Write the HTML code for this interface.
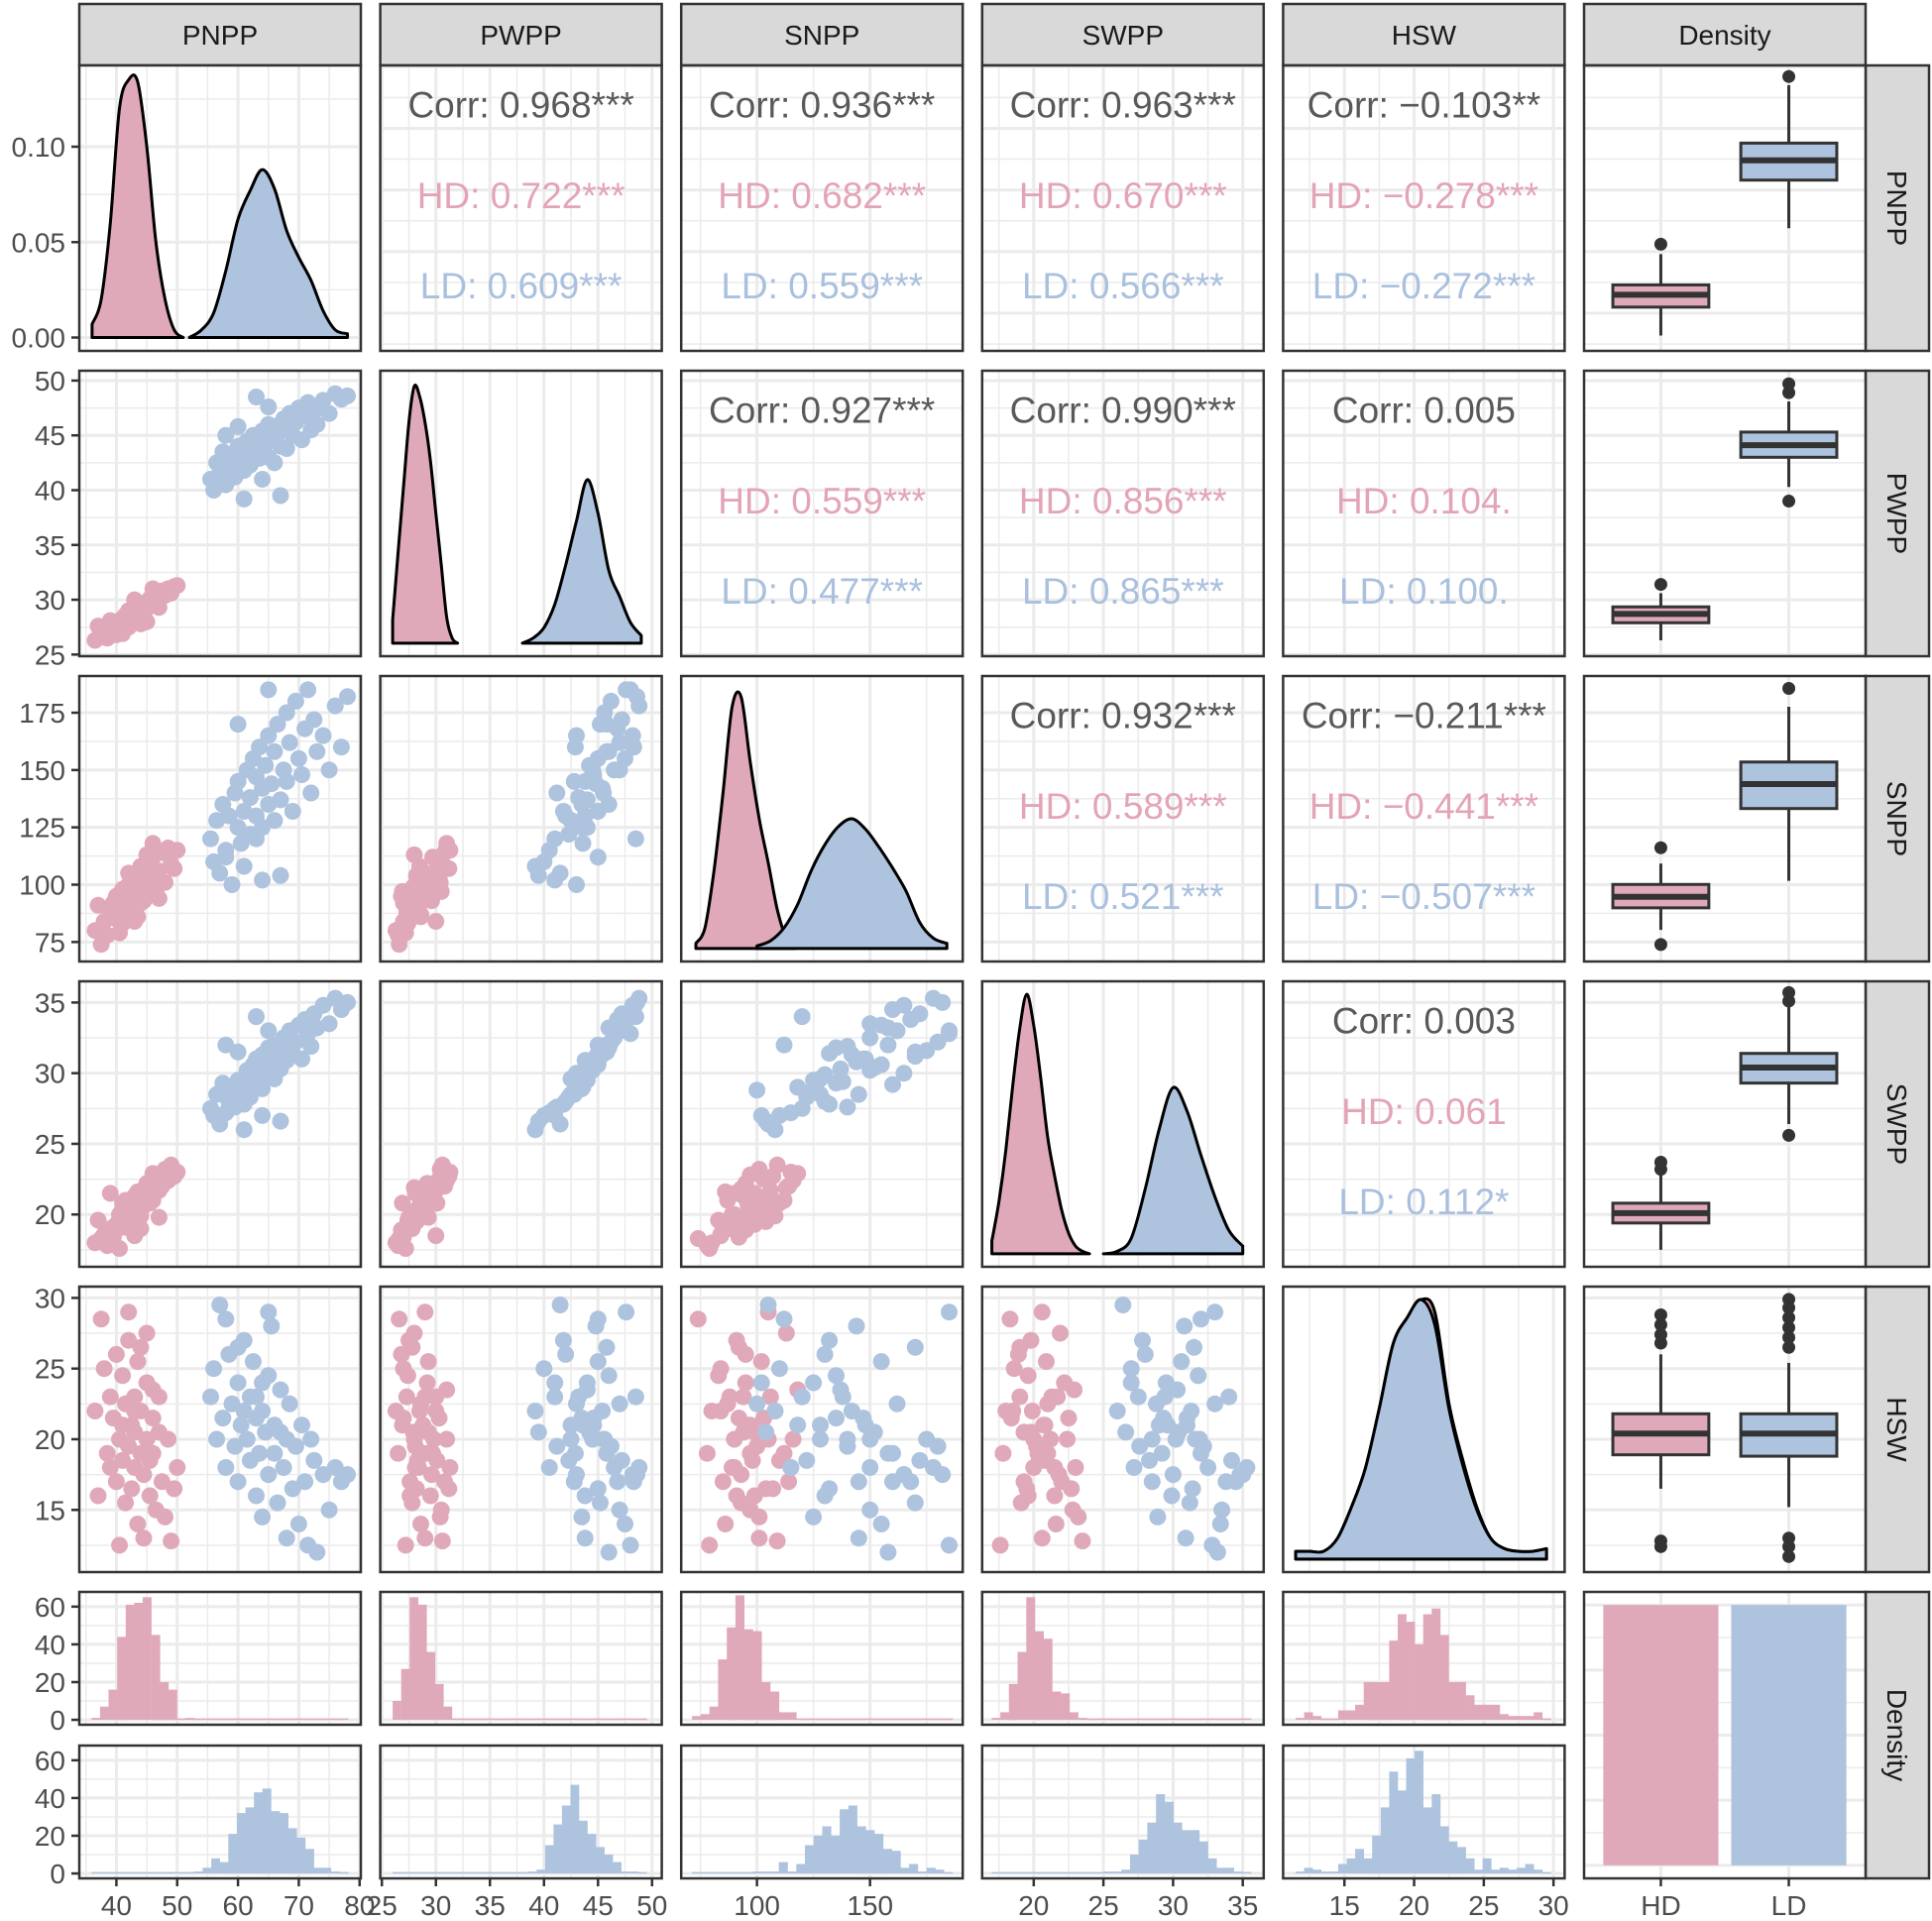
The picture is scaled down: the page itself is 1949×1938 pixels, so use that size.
<!DOCTYPE html>
<html><head><meta charset="utf-8"><style>
html,body{margin:0;padding:0;background:#fff;}
svg{display:block;font-family:"Liberation Sans",Arial,sans-serif;}
</style></head><body>
<svg id="chart" width="1949" height="1938" viewBox="0 0 1949 1938" xmlns="http://www.w3.org/2000/svg"></svg>
<script>
const varNames = ['PNPP','PWPP','SNPP','SWPP','HSW'];
const varRanges = [[33.9,80.2],[24.85,50.9],[66.5,191],[16.3,36.5],[10.6,30.8]];
const xMajor = [[40,50,60,70,80],[25,30,35,40,45,50],[100,150],[20,25,30,35],[15,20,25,30]];
const xMinor = [[35,45,55,65,75],[27.5,32.5,37.5,42.5,47.5],[75,125,175],[17.5,22.5,27.5,32.5],[12.5,17.5,22.5,27.5]];
const yMajor = [[40,50,60,70,80],[25,30,35,40,45,50],[75,100,125,150,175],[20,25,30,35],[15,20,25,30]];
const yMinor = [[35,45,55,65,75],[27.5,32.5,37.5,42.5,47.5],[87.5,112.5,137.5,162.5],[17.5,22.5,27.5,32.5],[12.5,17.5,22.5,27.5]];
const densTicks = [0,0.05,0.10];
const densTickLabels = ['0.00','0.05','0.10'];
const countTicks = [0,20,40,60];

// scatter data
const hdPNPP=[36.5,37.5,38,38.5,39,39.5,40,40,40.5,41,41,41.5,41.5,42,42,42.5,42.5,43,43,43,43.5,43.5,44,44,44.5,44.5,45,45,45.5,45.5,46,46,46.5,47,47.5,48,48.5,49,49.5,50,42,40.5,44,41,43,45,39,47,37,46];
const hdPWPP=[26.3,26.6,27.0,26.5,27.3,27.0,27.6,26.8,28.0,27.4,28.3,27.8,28.6,28.1,27.5,28.8,28.2,29.0,28.4,27.9,29.3,28.6,29.1,28.5,29.6,29.0,29.8,29.2,30.1,29.5,30.3,29.7,30.5,30.0,30.8,30.4,31.0,30.6,31.2,31.3,29.0,27.2,27.8,26.9,30.0,28.0,28.1,29.3,27.6,31.0];
const hdSNPP=[80,74,84,78,88,92,85,95,90,83,98,93,87,100,91,96,104,94,89,99,102,86,97,108,93,101,105,95,110,99,103,112,97,106,114,101,116,109,107,115,105,79,92,97,84,113,90,94,91,118];
const hdSWPP=[18.0,18.3,18.6,17.8,19.0,18.4,19.3,18.9,20.0,19.6,20.4,19.1,21.0,20.2,19.8,20.7,19.5,21.3,20.0,19.3,20.9,21.6,20.3,19.9,21.8,20.6,21.2,22.2,20.8,21.5,22.5,21.0,22.8,21.7,22.0,23.2,22.4,23.5,22.7,23.0,20.6,17.6,19.0,20.8,18.5,21.9,21.5,19.8,19.6,22.9];
const hdHSW=[22,28.5,25,19,23,21.5,17,26,20,24.5,18.5,15.5,22.5,19.5,27,21,16.5,23,18,20.5,25.5,14,19,22,17.5,13,20,24,18.5,16,21.5,19,15,23,17,14.5,20,12.8,16.5,18,29,12.5,26.5,21,22,27.5,18,20.5,16,23.5];
const ldPNPP=[55.5,56,56.5,57,57.5,58,58.5,59,59.5,60,60,60.5,61,61.5,62,62,62.5,63,63,63.5,64,64,64.5,65,65,65.5,66,66,66.5,67,67.5,68,68,68.5,69,69.5,70,70.5,71,71.5,72,72.5,73,74,75,76,77,78,61,64,67,60,65,63,58];
const ldPWPP=[41.0,40.0,42.5,41.5,43.5,40.5,42.0,43.0,41.2,44.0,42.8,43.6,41.8,44.5,43.2,42.3,45.0,43.8,44.6,42.9,45.4,43.5,44.2,46.0,43.0,44.8,45.8,42.5,45.2,44.0,46.5,45.6,43.8,47.0,45.0,46.2,47.5,44.6,46.8,48.0,45.5,47.2,46.0,48.2,47.0,48.8,48.3,48.6,39.2,41.0,39.5,45.8,47.6,48.5,45.0];
const ldSNPP=[120,110,128,105,135,115,130,100,140,125,145,118,132,150,138,122,155,130,147,160,142,125,152,135,165,144,158,128,170,137,150,175,145,162,132,180,155,148,168,185,140,172,158,165,150,178,160,182,108,102,104,170,185,120,112];
const ldSWPP=[27.5,27.0,28.5,26.4,29.3,27.2,28.0,28.8,27.6,29.5,28.5,29.0,27.8,30.2,29.4,28.3,30.6,29.9,31.0,29.2,31.3,28.9,30.4,31.8,30.0,30.8,32.0,29.6,31.2,30.3,32.5,31.6,30.9,33.0,31.4,32.2,33.4,31.0,33.8,32.8,31.9,34.2,33.2,34.8,33.5,35.3,34.5,35.0,26.0,27.0,26.6,31.5,33.0,34.0,32.0];
const ldHSW=[23,25,20,29.5,21.5,18,26,22.5,19.5,24,17,21,27,20,23,18.5,25.5,16,21.5,19,22,14.5,20.5,24.5,17.5,28,19,21,15.5,23.5,18,20,13,22.5,16.5,19.5,14,21,17,12.5,20,18.5,12.0,17.5,15,18,17,17.5,22,24,20.5,26.5,29,23,28.5];

// density curves: start, step, values
const densHDStart=[36,26,73,17,11.5], densHDStep=[1.5,0.5,4,0.5,1];
const densLDStart=[52,38,100,25,11.5], densLDStep=[2,1,6,1,1];
const densHD0=[0.007,0.02,0.06,0.12,0.135,0.134,0.10,0.05,0.02,0.004,0.0];
const densLD0=[0.0,0.004,0.013,0.035,0.062,0.077,0.088,0.078,0.056,0.042,0.030,0.014,0.004,0.002];
const densHD1=[0.09,0.35,0.6,0.85,0.99,0.95,0.85,0.7,0.5,0.3,0.1,0.02,0];
const densLD1=[0,0.02,0.06,0.15,0.3,0.47,0.63,0.5,0.28,0.18,0.08,0.03];
const densHD2=[0.02,0.08,0.3,0.6,0.93,0.97,0.72,0.5,0.33,0.15,0.04,0.01];
const densLD2=[0.01,0.03,0.08,0.17,0.3,0.4,0.47,0.5,0.46,0.39,0.31,0.22,0.1,0.04,0.02];
const densHD3=[0.05,0.2,0.4,0.65,0.87,1.0,0.88,0.68,0.45,0.3,0.17,0.08,0.03,0.01,0];
const densLD3=[0,0.01,0.06,0.25,0.48,0.64,0.55,0.38,0.22,0.09,0.03];
const densHD4=[0.03,0.03,0.03,0.08,0.2,0.35,0.58,0.83,0.93,1.0,0.95,0.6,0.38,0.2,0.08,0.04,0.03,0.03,0.04];
const densLD4=[0.03,0.03,0.03,0.08,0.2,0.35,0.58,0.83,0.93,1.0,0.9,0.58,0.36,0.19,0.08,0.04,0.03,0.03,0.04];

// histogram counts (30 bins) with [min,max]
const histRange=[[35.9,78.1],[26.0,49.5],[71.3,186.5],[16.98,35.6],[11.5,29.8]];
const histHD0=[1,7,16,44,61,62,65,45,20,16,0,1,0,0,0,0,0,0,0,0,0,0,0,0,0,0,0,0,0,0];
const histLD0=[0,0,0,0,0,0,0,0,0,0,0,0,1,3,8,6,21,32,35,43,45,33,32,24,19,13,3,3,1,0];
const histHD1=[10,27,65,61,36,19,7,0,0,0,0,0,0,0,0,0,0,0,0,0,0,0,0,0,0,0,0,0,0,0];
const histLD1=[0,0,0,0,0,0,0,0,0,0,0,0,0,0,0,0,1,2,15,26,36,47,28,21,14,10,6,1,1,0];
const histHD2=[2,3,7,32,49,66,48,47,20,15,4,4,0,0,0,0,0,0,0,0,0,0,0,0,0,0,0,0,0,0];
const histLD2=[0,0,0,0,0,0,0,1,1,1,6,1,5,15,20,25,20,34,36,25,23,21,13,12,3,5,1,3,2,0];
const histHD3=[1,4,19,36,65,47,43,15,14,4,1,0,0,0,0,0,0,0,0,0,0,0,0,0,0,0,0,0,0,0];
const histLD3=[0,0,0,0,0,0,0,0,0,0,0,0,0,1,1,2,10,18,27,42,38,27,23,23,17,8,3,3,1,0];
const histHD4=[1,4,2,0,0,5,5,8,20,20,20,42,56,52,40,56,59,45,20,20,13,8,8,8,3,2,2,2,4,0];
const histLD4=[1,3,2,1,1,5,8,13,8,20,35,54,44,61,65,35,42,25,17,14,8,2,8,2,3,2,3,5,2,0];

// boxplot summaries [lo,q1,med,q3,hi]
const boxHD=[[36.4,41,43,44.6,49.6],[26.3,27.9,28.7,29.35,30.6],[80.3,89.9,94.7,100.1,109.2],[17.5,19.4,20.1,20.8,22.8],[16.5,18.9,20.4,21.8,26.0]];
const boxLD=[[53.8,61.6,64.8,67.6,77],[40.3,43.0,44.1,45.3,48.1],[101.7,133.2,143.9,153.5,177.6],[26.4,29.3,30.4,31.4,34.8],[15.2,18.8,20.4,21.8,25.4]];
const outHD=[[51.2],[31.4],[116.1,73.9],[23.2,23.7],[26.8,27.4,28.1,28.8,12.8,12.4]];
const outLD=[[78.4],[48.9,49.7,39.0],[185.6],[35.1,35.7,25.6],[26.5,27.2,27.9,28.6,29.3,29.9,13.0,12.4,11.7]];
const groupCounts=[400,400];
const groupNames=['HD','LD'];

// correlation text
const corrCells=[[0,1],[0,2],[0,3],[0,4],[1,2],[1,3],[1,4],[2,3],[2,4],[3,4]];
const corrAll=['0.968***','0.936***','0.963***','\u22120.103**','0.927***','0.990***','0.005','0.932***','\u22120.211***','0.003'];
const corrHD=['0.722***','0.682***','0.670***','\u22120.278***','0.559***','0.856***','0.104.','0.589***','\u22120.441***','0.061'];
const corrLD=['0.609***','0.559***','0.566***','\u22120.272***','0.477***','0.865***','0.100.','0.521***','\u22120.507***','0.112*'];

const PINK='#e0a9b9', BLUE='#adc3de', PINKT='#e3a4b6', BLUET='#a9c0de';
const svg=document.getElementById('chart');
const NS='http://www.w3.org/2000/svg';
function mk(tag,attrs,parent){const e=document.createElementNS(NS,tag);for(const k in attrs)e.setAttribute(k,attrs[k]);(parent||svg).appendChild(e);return e;}
function lin(d0,d1,p0,p1){return v=>p0+(v-d0)/(d1-d0)*(p1-p0);}
const colX=i=>80+i*303.6, PW=284;
const rowY=j=>66+j*308, PH=288;
const dataX=[hdPNPP,hdPWPP,hdSNPP,hdSWPP,hdHSW], dataL=[ldPNPP,ldPWPP,ldSNPP,ldSWPP,ldHSW];
const densHD=[densHD0,densHD1,densHD2,densHD3,densHD4], densLD=[densLD0,densLD1,densLD2,densLD3,densLD4];
const histHD=[histHD0,histHD1,histHD2,histHD3,histHD4], histLD=[histLD0,histLD1,histLD2,histLD3,histLD4];

function grid(g,x0,y0,w,h,sx,sy,xmaj,xmin,ymaj,ymin){
  (ymin||[]).forEach(v=>{const y=sy(v);if(y>y0&&y<y0+h)mk('line',{x1:x0,x2:x0+w,y1:y,y2:y,stroke:'#ebebeb','stroke-width':1.5},g);});
  (xmin||[]).forEach(v=>{const x=sx(v);if(x>x0&&x<x0+w)mk('line',{x1:x,x2:x,y1:y0,y2:y0+h,stroke:'#ebebeb','stroke-width':1.5},g);});
  (ymaj||[]).forEach(v=>{const y=sy(v);if(y>y0&&y<y0+h)mk('line',{x1:x0,x2:x0+w,y1:y,y2:y,stroke:'#ebebeb','stroke-width':3},g);});
  (xmaj||[]).forEach(v=>{const x=sx(v);if(x>x0&&x<x0+w)mk('line',{x1:x,x2:x,y1:y0,y2:y0+h,stroke:'#ebebeb','stroke-width':3},g);});
}
function border(g,x0,y0,w,h){mk('rect',{x:x0,y:y0,width:w,height:h,fill:'none',stroke:'#333','stroke-width':2.5},g);}
function densPath(start,step,vals,sx,sy){
  const P=vals.map((v,i)=>[sx(start+i*step),sy(v)]);
  let d='M'+P[0][0].toFixed(1)+','+sy(0).toFixed(1)+' L'+P[0][0].toFixed(1)+','+P[0][1].toFixed(1);
  for(let i=0;i<P.length-1;i++){
    const p0=P[Math.max(i-1,0)],p1=P[i],p2=P[i+1],p3=P[Math.min(i+2,P.length-1)];
    let c1y=p1[1]+(p2[1]-p0[1])/6, c2y=p2[1]-(p3[1]-p1[1])/6;
    const base=sy(0); c1y=Math.min(c1y,base); c2y=Math.min(c2y,base);
    d+=` C${(p1[0]+(p2[0]-p0[0])/6).toFixed(1)},${c1y.toFixed(1)} ${(p2[0]-(p3[0]-p1[0])/6).toFixed(1)},${c2y.toFixed(1)} ${p2[0].toFixed(1)},${p2[1].toFixed(1)}`;
  }
  d+=' L'+P[P.length-1][0].toFixed(1)+','+sy(0).toFixed(1)+' Z';return d;
}
function discX(x0){return lin(0.4,2.6,x0,x0+PW);}

// strips
for(let i=0;i<6;i++){
  const g=mk('g',{});
  
  
  mk('rect',{x:colX(i),y:4,width:PW,height:62,fill:'#d9d9d9',stroke:'#333','stroke-width':2.5},g);
  const t=mk('text',{x:colX(i)+PW/2,y:45,'text-anchor':'middle','font-size':28,fill:'#1a1a1a'},g);
  t.textContent=i<5?varNames[i]:'Density';
  const gr=mk('g',{});
  
  
  const y0=rowY(i), h=(i<5?PH:289);
  mk('rect',{x:1882,y:y0,width:64,height:h,fill:'#d9d9d9',stroke:'#333','stroke-width':2.5},gr);
  const tr=mk('text',{x:0,y:0,'text-anchor':'middle','font-size':28,fill:'#1a1a1a',transform:`translate(1904,${y0+h/2}) rotate(90)`},gr);
  tr.textContent=i<5?varNames[i]:'Density';
}

// main 5x5 + col6 boxplots
for(let r=0;r<5;r++){
  for(let c=0;c<6;c++){
    const x0=colX(c), y0=rowY(r);
    const g=mk('g',{});
    
    
    mk('rect',{x:x0,y:y0,width:PW,height:PH,fill:'#fff'},g);
    const sy=lin(varRanges[r][0],varRanges[r][1],y0+PH,y0);
    if(c===5){
      const sx=discX(x0);
      grid(g,x0,y0,PW,PH,sx,sy,[1,2],[],yMajor[r],yMinor[r]);
      [boxHD,boxLD].forEach((B,k)=>{
        const b=B[r], cx=sx(k+1), hw=(sx(1.375)-sx(1));
        const bg=mk('g',{},g);
        
        
        mk('line',{x1:cx,x2:cx,y1:sy(b[0]),y2:sy(b[4]),stroke:'#333','stroke-width':3},bg);
        mk('rect',{x:cx-hw,y:sy(b[3]),width:2*hw,height:sy(b[1])-sy(b[3]),fill:k?BLUE:PINK,stroke:'#333','stroke-width':3},bg);
        mk('line',{x1:cx-hw,x2:cx+hw,y1:sy(b[2]),y2:sy(b[2]),stroke:'#333','stroke-width':6},bg);
        (k?outLD:outHD)[r].forEach(v=>{const o=mk('circle',{cx:cx,cy:sy(v),r:6.5,fill:'#333'},bg);
          });
      });
      border(g,x0,y0,PW,PH);continue;
    }
    const sx=lin(varRanges[c][0],varRanges[c][1],x0,x0+PW);
    if(r===c){
      let syd;
      if(r===0){syd=lin(-0.007,0.1426,y0+PH,y0);grid(g,x0,y0,PW,PH,sx,syd,xMajor[c],xMinor[c],densTicks,[0.025,0.075,0.125]);}
      else{syd=lin(-0.05,1.05,y0+PH,y0);grid(g,x0,y0,PW,PH,sx,syd,xMajor[c],xMinor[c],[],[]);}
      const p1=mk('path',{d:densPath(densHDStart[c],densHDStep[c],densHD[c],sx,syd),fill:PINK,stroke:'#000','stroke-width':3,'stroke-linejoin':'round'},g);
      
      
      const p2=mk('path',{d:densPath(densLDStart[c],densLDStep[c],densLD[c],sx,syd),fill:BLUE,stroke:'#000','stroke-width':3,'stroke-linejoin':'round'},g);
      
      
    } else if(r>c){
      grid(g,x0,y0,PW,PH,sx,sy,xMajor[c],xMinor[c],yMajor[r],yMinor[r]);
      [[dataX,PINK],[dataL,BLUE]].forEach(([D,col])=>{
        D[c].forEach((v,i)=>{const p=mk('circle',{cx:sx(v).toFixed(1),cy:sy(D[r][i]).toFixed(1),r:8.5,fill:col},g);
          });
      });
    } else {
      grid(g,x0,y0,PW,PH,sx,sy,xMajor[c],xMinor[c],yMajor[r],yMinor[r]);
      const k=corrCells.findIndex(a=>a[0]===r&&a[1]===c);
      const lines=[['Corr: '+corrAll[k],'#595959',0.138],['HD: '+corrHD[k],PINKT,0.455],['LD: '+corrLD[k],BLUET,0.77]];
      lines.forEach(([s,col,f],m)=>{const t=mk('text',{x:x0+PW/2,y:y0+PH*f+13,'text-anchor':'middle','font-size':37,fill:col},g);t.textContent=s;
        });
    }
    border(g,x0,y0,PW,PH);
  }
}

// bottom row histograms
for(let c=0;c<5;c++){
  const x0=colX(c);
  const sx=lin(varRanges[c][0],varRanges[c][1],x0,x0+PW);
  [[histHD,PINK,1606,'hd'],[histLD,BLUE,1761,'ld']].forEach(([H,col,y0,nm])=>{
    const h=134;
    const g=mk('g',{});
    
    
    mk('rect',{x:x0,y:y0,width:PW,height:h,fill:'#fff'},g);
    const sy=lin(-2.6,67.8,y0+h,y0);
    grid(g,x0,y0,PW,h,sx,sy,xMajor[c],xMinor[c],countTicks,[10,30,50]);
    const [a,b]=histRange[c], w=(b-a)/30;
    H[c].forEach((n,i)=>{const xx=sx(a+i*w), x2=sx(a+(i+1)*w), yy=sy(n);
      const rr=mk('rect',{x:xx.toFixed(1),y:Math.min(yy,sy(0)-1.5).toFixed(1),width:(x2-xx+0.3).toFixed(1),height:Math.max(sy(0)-yy,1.5).toFixed(1),fill:col},g);
      });
    border(g,x0,y0,PW,h);
  });
}
// bottom right bar chart
{
  const x0=colX(5), y0=1606, h=289;
  const g=mk('g',{});
  
  
  mk('rect',{x:x0,y:y0,width:PW,height:h,fill:'#fff'},g);
  const sx=discX(x0), sy=lin(-0.05*groupCounts[0],1.05*groupCounts[0],y0+h,y0);
  grid(g,x0,y0,PW,h,sx,sy,[1,2],[],[0,100,200,300,400],[50,150,250,350]);
  groupCounts.forEach((n,k)=>{const b=mk('rect',{x:sx(k+1-0.45),y:sy(n),width:sx(1.45)-sx(0.55),height:sy(0)-sy(n),fill:k?BLUE:PINK},g);
    });
  border(g,x0,y0,PW,h);
}

// axes labels
const ax=mk('g',{});


function ylab(y,s){mk('line',{x1:72,x2:79,y1:y,y2:y,stroke:'#333','stroke-width':2.5},ax);
  const t=mk('text',{x:66,y:y+10,'text-anchor':'end','font-size':28,fill:'#4d4d4d'},ax);t.textContent=s;}
{const sy=lin(-0.007,0.1426,rowY(0)+PH,rowY(0));densTicks.forEach((v,i)=>ylab(sy(v),densTickLabels[i]));}
for(let r=1;r<5;r++){const sy=lin(varRanges[r][0],varRanges[r][1],rowY(r)+PH,rowY(r));yMajor[r].forEach(v=>{if(sy(v)<=rowY(r)+PH+8)ylab(sy(v),String(v));});}
[1606,1761].forEach(y0=>{const sy=lin(-2.6,67.8,y0+134,y0);countTicks.forEach(v=>ylab(sy(v),String(v)));});
function xlab(x,s){mk('line',{x1:x,x2:x,y1:1896,y2:1903,stroke:'#333','stroke-width':2.5},ax);
  const t=mk('text',{x:x,y:1932,'text-anchor':'middle','font-size':28,fill:'#4d4d4d'},ax);t.textContent=s;}
for(let c=0;c<5;c++){const sx=lin(varRanges[c][0],varRanges[c][1],colX(c),colX(c)+PW);xMajor[c].forEach(v=>xlab(sx(v),String(v)));}
{const sx=discX(colX(5));groupNames.forEach((n,k)=>xlab(sx(k+1),n));}
</script>
</body></html>
